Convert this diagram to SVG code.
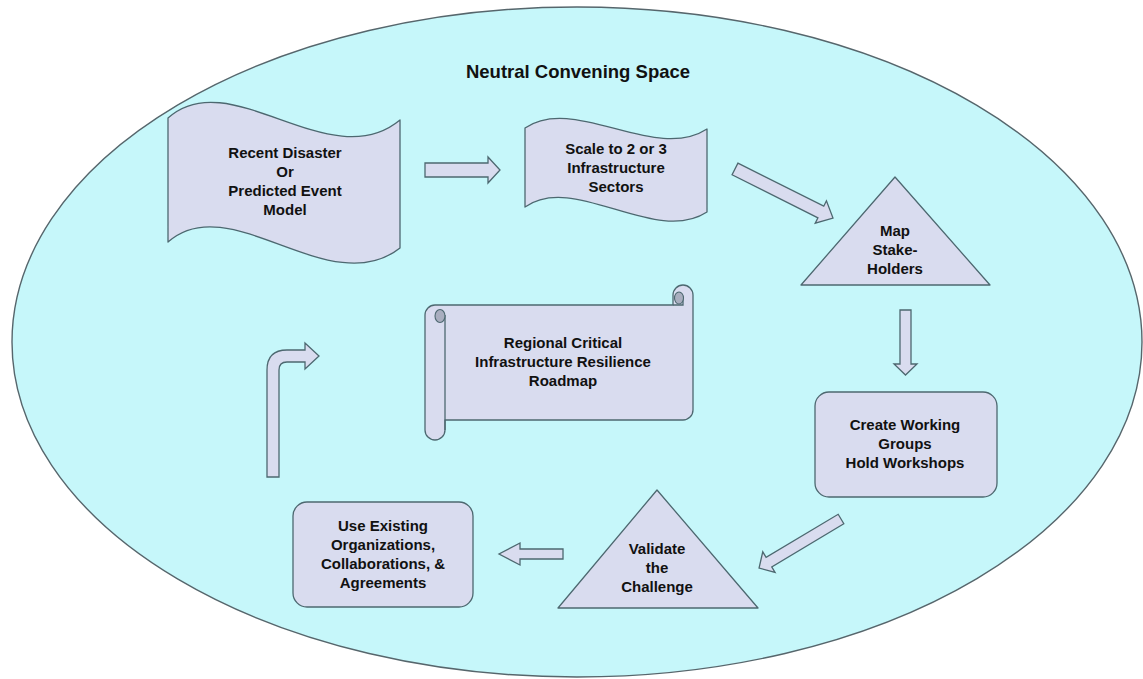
<svg xmlns="http://www.w3.org/2000/svg" width="1143" height="679" viewBox="0 0 1143 679">
<style>
.shape{fill:#d9dcef;stroke:#4d6870;stroke-width:1.3;stroke-linejoin:round}
.arrow{fill:#d9dcef;stroke:#4d6870;stroke-width:1.3;stroke-linejoin:miter}
.curl{fill:#a9aebf;stroke:#4d6870;stroke-width:1.1}
.line{fill:none;stroke:#4d6870;stroke-width:1.3}
text{font-family:"Liberation Sans",Arial,sans-serif;font-weight:bold;font-size:15px;fill:#111111;text-anchor:middle}
.title{font-size:18.5px}
</style>
<rect width="1143" height="679" fill="#ffffff"/>
<g id="space">
<ellipse cx="577" cy="342" rx="565" ry="335" fill="#c6f7fa" stroke="#56666c" stroke-width="1.4"/>
<text class="title" x="578" y="78">Neutral Convening Space</text>
</g>
<g id="node-disaster">
<path class="shape" d="M168,118 C230,62 330,178 400,120 L400,248 C330,303 230,187 168,242 Z"/>
<text x="285" y="158">Recent Disaster</text>
<text x="285" y="177">Or</text>
<text x="285" y="196">Predicted Event</text>
<text x="285" y="215">Model</text>
</g>
<g id="node-scale">
<path class="shape" d="M525,128 C574,94 655,163 707,129 L707,212 C655,246 574,172 525,207 Z"/>
<text x="616" y="154">Scale to 2 or 3</text>
<text x="616" y="173">Infrastructure</text>
<text x="616" y="192">Sectors</text>
</g>
<g id="node-map">
<polygon class="shape" points="895,177 990,285 801,285"/>
<text x="895" y="236">Map</text>
<text x="895" y="255">Stake-</text>
<text x="895" y="274">Holders</text>
</g>
<g id="node-working">
<rect class="shape" x="815" y="392" width="182" height="105" rx="14"/>
<text x="905" y="430">Create Working</text>
<text x="905" y="449">Groups</text>
<text x="905" y="468">Hold Workshops</text>
</g>
<g id="node-validate">
<polygon class="shape" points="657,490 758,608 558,608"/>
<text x="657" y="554">Validate</text>
<text x="657" y="573">the</text>
<text x="657" y="592">Challenge</text>
</g>
<g id="node-existing">
<rect class="shape" x="293" y="502" width="180" height="105" rx="14"/>
<text x="383" y="531">Use Existing</text>
<text x="383" y="550">Organizations,</text>
<text x="383" y="569">Collaborations, &amp;</text>
<text x="383" y="588">Agreements</text>
</g>
<g id="node-roadmap">
<path class="shape" d="M445,420 L683,420 A10,10 0 0 0 693,410 L693,295 A10,10 0 0 0 673,295 L673,305 L435,305 A10,10 0 0 0 425,315 L425,430 A10,10 0 0 0 445,430 Z"/>
<path class="line" d="M445,315 L445,430"/>
<path class="line" d="M673,305 L683,305 L683,298"/>
<ellipse class="curl" cx="440" cy="316" rx="5" ry="6.5"/>
<ellipse class="curl" cx="679" cy="298" rx="4.5" ry="6"/>
<text x="563" y="348">Regional Critical</text>
<text x="563" y="367">Infrastructure Resilience</text>
<text x="563" y="386">Roadmap</text>
</g>
<g id="connectors">
<polygon class="arrow" points="425,163 488,163 488,157 500,170 488,183 488,177 425,177"/>
<polygon class="arrow" transform="translate(735,169) rotate(26.6)" points="0,-6.5 96,-6.5 96,-12.5 109.6,0 96,12.5 96,6.5 0,6.5"/>
<polygon class="arrow" points="900,310 911,310 911,364 917,364 905.5,375 894,364 900,364"/>
<polygon class="arrow" transform="translate(841,519) rotate(149.1)" points="0,-5.5 84,-5.5 84,-12 95.5,0 84,12 84,5.5 0,5.5"/>
<polygon class="arrow" points="563,549 520,549 520,543 499,554 520,565 520,559 563,559"/>
<path class="arrow" d="M267,477 L267,370 Q267,350 287,350 L305,350 L305,343 L319,356 L305,369 L305,362 L287,362 Q279,362 279,370 L279,477 Z"/>
</g>
</svg>
